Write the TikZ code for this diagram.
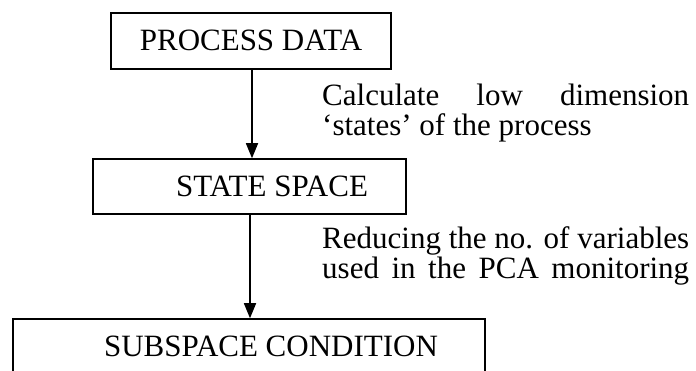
\documentclass[tikz,border=0pt]{standalone}
\usepackage{fontspec}
\setmainfont{Liberation Serif}
\usetikzlibrary{arrows.meta}
\tikzset{
  stagebox/.style={draw, line width=1.5pt, rectangle, inner sep=0pt},
  flowarrow/.style={line width=1.5pt, -{Triangle[width=12pt,length=15pt]}},
  caption/.style={inner sep=0pt, font=\fontsize{31}{28}\selectfont},
}
\begin{document}
\begin{tikzpicture}[x=1pt, y=-1pt]
  \useasboundingbox (0,0) rectangle (696,371);
  \clip (0,0) rectangle (696,371);

  % stage boxes
  \node[stagebox, minimum width=280pt, minimum height=56pt] (data) at (251,41) {};
  \node[stagebox, minimum width=313pt, minimum height=55pt] (state) at (249.5,186.5) {};
  \node[stagebox, minimum width=472pt, minimum height=90pt] (sub) at (249,364) {};

  % box titles
  \node[caption, anchor=base] (dataT) at (251,51) {PROCESS DATA};
  \node[caption, anchor=base] (stateT) at (272,197) {STATE SPACE};
  \node[caption, anchor=base] (subT) at (271,356) {SUBSPACE CONDITION};

  % connectors
  \draw[flowarrow] (data.south -| 252,0) -- (state.north -| 252,0);
  \draw[flowarrow] (state.south -| 250,0) -- (sub.north -| 250,0);

  % side notes
  \node[caption, anchor=base west] (n1a) at (322,106) {\makebox[367pt][s]{Calculate low dimension}};
  \node[caption, anchor=base west] (n1b) at (322,136) {‘states’ of the process};
  \node[caption, anchor=base west] (n2a) at (322,249) {\makebox[367pt][s]{Reducing the no. of variables}};
  \node[caption, anchor=base west] (n2b) at (322,279) {\makebox[367pt][s]{used in the PCA monitoring}};
\end{tikzpicture}
\end{document}
